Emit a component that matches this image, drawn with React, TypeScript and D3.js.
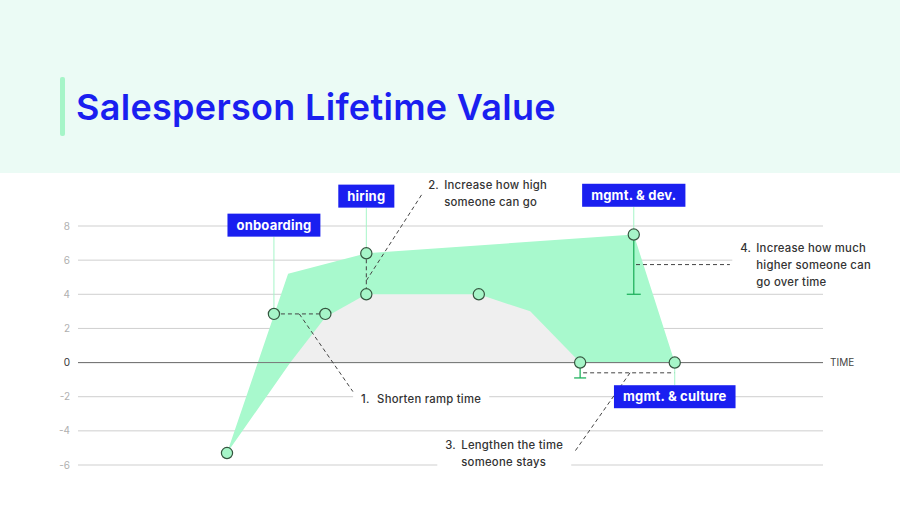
import * as React from 'react'
import * as d3 from 'd3'

const WIDTH = 900
const HEIGHT = 506
const PLOT_LEFT = 78
const PLOT_RIGHT = 823
const PLOT_TOP = 226
const PLOT_BOTTOM = 465

// y ticks
const yTicks = [-6, -4, -2, 0, 2, 4, 6, 8]

// upper envelope (green) in time units / value
const upperT = [20, 28.2, 38.7, 74.6, 80.1]
const upperV = [-5.3, 5.2, 6.4, 7.5, 0]

// baseline career curve (gray)
const baseT = [28.5, 33.2, 38.7, 53.8, 60.7, 67.4]
const baseV = [0, 2.65, 4, 4, 3, 0]

// marked points
const pointT = [20, 26.3, 33.2, 38.7, 38.7, 53.8, 67.4, 74.6, 80.1]
const pointV = [-5.3, 2.85, 2.85, 6.4, 4, 4, 0, 7.5, 0]

// stage labels: text, point index, label anchor value
const stageNames = ['onboarding', 'hiring', 'mgmt. & dev.', 'mgmt. & culture']
const stagePoint = [1, 3, 7, 8]
const stageAnchorV = [8.05, 9.75, 9.8, -2.0]

// error bars: point index, lower value
const errPoint = [7, 6]
const errLow = [4, -0.9]

// annotations
const noteNums = ['1.', '2.', '3.', '4.']
const noteLines = [
  ['Shorten ramp time'],
  ['Increase how high', 'someone can go'],
  ['Lengthen the time', 'someone stays'],
  ['Increase how much', 'higher someone can', 'go over time']
]
const noteT = [38, 47, 49.3, 88.9]
const noteV = [-2.37, 10.18, -5.05, 6.48]

// dashed leader lines [t1, v1, t2, v2]
const leaders = [
  [26.3, 2.85, 33.2, 2.85],
  [29.7, 2.85, 36.9, -1.7],
  [38.7, 6.05, 38.7, 4.35],
  [38.7, 4.8, 46.3, 9.95],
  [67.8, -0.6, 80.1, -0.6],
  [74.1, -0.6, 66.7, -5.2],
  [74.9, 5.74, 87.5, 5.74]
]

const FONT = 'Inter, "Noto Sans", sans-serif'
const BLUE = '#1a1ff0'
const GREEN = '#a8f9cd'

function drawChart(svgEl: SVGSVGElement) {
  const svg = d3.select(svgEl)
  svg.selectAll('*').remove()

  const x = d3.scaleLinear().domain([0, 100]).range([PLOT_LEFT, PLOT_RIGHT])
  const y = d3.scaleLinear().domain([-6, 8]).range([PLOT_BOTTOM, PLOT_TOP])

  // header band
  svg.append('rect').attr('x', 0).attr('y', 0).attr('width', WIDTH).attr('height', 173).attr('fill', '#ebfbf5')
  svg.append('rect').attr('x', 60).attr('y', 77).attr('width', 5).attr('height', 59).attr('rx', 2).attr('fill', '#a6f5c8')
  svg
    .append('text')
    .attr('x', 76)
    .attr('y', 120)
    .attr('font-family', FONT)
    .attr('font-size', 36)
    .attr('font-weight', 600)
    .attr('letter-spacing', 0.3)
    .attr('fill', BLUE)
    .text('Salesperson Lifetime Value')

  // gridlines
  const grid = svg.append('g')
  grid
    .selectAll('line')
    .data(yTicks)
    .join('line')
    .attr('x1', PLOT_LEFT)
    .attr('x2', PLOT_RIGHT)
    .attr('y1', d => y(d))
    .attr('y2', d => y(d))
    .attr('stroke', d => (d === 0 ? '#777' : '#cfcfcf'))
    .attr('stroke-width', 1)
  grid
    .selectAll('text')
    .data(yTicks)
    .join('text')
    .attr('x', 70)
    .attr('y', d => y(d))
    .attr('dy', '0.35em')
    .attr('text-anchor', 'end')
    .attr('font-family', FONT)
    .attr('font-size', 10)
    .attr('fill', d => (d === 0 ? '#333' : '#b0b0b0'))
    .text(d => d)

  svg
    .append('text')
    .attr('x', 830)
    .attr('y', y(0))
    .attr('dy', '0.35em')
    .attr('font-family', FONT)
    .attr('font-size', 10)
    .attr('fill', '#444')
    .text('TIME')

  // green envelope
  const upperPts: [number, number][] = upperT.map((t, i) => [x(t), y(upperV[i])])
  const greenPoly: [number, number][] = [...upperPts, [x(baseT[0]), y(0)]]
  svg.append('path').attr('d', d3.line()(greenPoly) + 'Z').attr('fill', GREEN)

  // gray base curve
  const basePts: [number, number][] = baseT.map((t, i) => [x(t), y(baseV[i])])
  svg.append('path').attr('d', d3.line()(basePts) + 'Z').attr('fill', '#efefef')

  // redraw zero line on top of the gray
  svg
    .append('line')
    .attr('x1', PLOT_LEFT)
    .attr('x2', PLOT_RIGHT)
    .attr('y1', y(0))
    .attr('y2', y(0))
    .attr('stroke', '#777')

  // annotation texts with white backgrounds
  const notes = svg.append('g')
  noteLines.forEach((lines, i) => {
    const g = notes.append('g')
    const bg = g.append('rect').attr('fill', '#fff')
    const tx = g
      .append('text')
      .attr('font-family', FONT)
      .attr('font-size', 11.3)
      .attr('font-weight', 500)
      .attr('letter-spacing', 0.25)
      .attr('fill', '#333')
    tx.append('tspan').attr('x', x(noteT[i])).attr('y', y(noteV[i])).text(noteNums[i])
    lines.forEach((l, j) => {
      tx.append('tspan')
        .attr('x', x(noteT[i]) + 16)
        .attr('y', y(noteV[i]) + j * 17)
        .text(l)
    })
    const bb = (tx.node() as SVGTextElement).getBBox()
    bg.attr('x', bb.x - 8)
      .attr('y', bb.y - 3)
      .attr('width', bb.width + 16)
      .attr('height', bb.height + 6)
  })

  // leaders
  svg
    .append('g')
    .selectAll('line')
    .data(leaders)
    .join('line')
    .attr('x1', d => x(d[0]))
    .attr('y1', d => y(d[1]))
    .attr('x2', d => x(d[2]))
    .attr('y2', d => y(d[3]))
    .attr('stroke', '#444')
    .attr('stroke-width', 1)
    .attr('stroke-dasharray', '4 3')

  // error bars
  const errG = svg.append('g').attr('stroke', '#22b25f').attr('stroke-width', 1.3)
  errPoint.forEach((pi, i) => {
    const cx = x(pointT[pi])
    const cw = i === 0 ? 7 : 6
    errG.append('line').attr('x1', cx).attr('x2', cx).attr('y1', y(pointV[pi])).attr('y2', y(errLow[i]))
    errG.append('line').attr('x1', cx - cw).attr('x2', cx + cw).attr('y1', y(errLow[i])).attr('y2', y(errLow[i]))
  })

  // stage labels
  const labels = svg.append('g')
  stageNames.forEach((name, i) => {
    const pi = stagePoint[i]
    const cx = x(pointT[pi])
    const cy = y(stageAnchorV[i])
    const g = labels.append('g')
    const conn = g.append('line').attr('stroke', '#a6f5c8').attr('stroke-width', 1)
    const rect = g.append('rect').attr('fill', BLUE)
    const tx = g
      .append('text')
      .attr('x', cx)
      .attr('y', cy)
      .attr('dy', '0.36em')
      .attr('text-anchor', 'middle')
      .attr('font-family', FONT)
      .attr('font-size', 13)
      .attr('font-weight', 700)
      .attr('letter-spacing', 0.2)
      .attr('fill', '#fff')
      .text(name)
    const w = (tx.node() as SVGTextElement).getComputedTextLength() + 18
    const h = 23
    rect.attr('x', cx - w / 2).attr('y', cy - h / 2).attr('width', w).attr('height', h)
    const py = y(pointV[pi])
    if (cy < py) conn.attr('x1', cx).attr('x2', cx).attr('y1', cy + h / 2).attr('y2', py)
    else conn.attr('x1', cx).attr('x2', cx).attr('y1', py).attr('y2', cy - h / 2)
  })

  // points
  svg
    .append('g')
    .selectAll('circle')
    .data(pointT.map((t, i) => [t, pointV[i]]))
    .join('circle')
    .attr('cx', d => x(d[0]))
    .attr('cy', d => y(d[1]))
    .attr('r', 5.6)
    .attr('fill', '#a6f5c8')
    .attr('stroke', '#35553f')
    .attr('stroke-width', 1.2)
}

export default function App() {
  const svgRef = React.useRef<SVGSVGElement>(null)
  React.useEffect(() => {
    document.body.style.margin = '0'
    if (svgRef.current) drawChart(svgRef.current)
  }, [])
  return (
    <svg
      ref={svgRef}
      width={WIDTH}
      height={HEIGHT}
      style={{ display: 'block', background: '#fff' }}
    />
  )
}
